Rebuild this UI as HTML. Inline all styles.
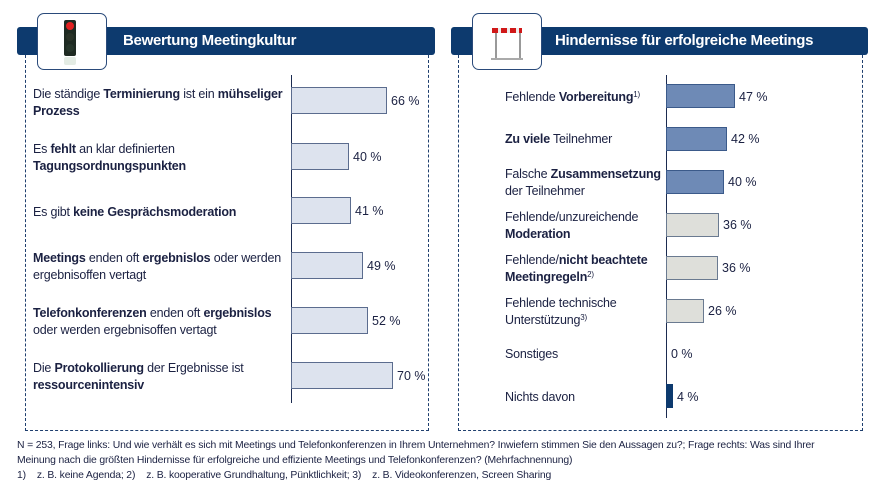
<!DOCTYPE html>
<html><head><meta charset="utf-8"><style>
body{margin:0;width:874px;height:487px;background:#fff;position:relative;overflow:hidden;font-family:"Liberation Sans",sans-serif;color:#1b2142}
div{position:absolute}
.hdr{background:#0d3a6e;height:28px;top:27px;border-radius:3px;color:#fff;font-weight:bold;font-size:15px;line-height:28px;letter-spacing:-0.3px}
.box{border:1.5px dashed #1f3f6e;border-top:none;top:55px;height:375px}
.icon{top:13px;width:68px;height:55px;background:#fff;border:1px solid #2a4a7a;border-radius:7px}
.lab{font-size:12.5px;line-height:17px;letter-spacing:-0.2px}
.bar{height:27px;background:#dde3ee;border:1px solid #5b6c8e;box-sizing:border-box}
.rb{height:24px;box-sizing:border-box;border:1px solid #3b5a8a}
.val{font-size:12.5px}
.ax{width:1px;background:#1b2b50}
.ft{left:17px;font-size:10.4px;letter-spacing:-0.15px}
sup{font-size:8px;line-height:0;vertical-align:0;position:relative;top:-4px}
</style></head><body>
<div class="box" style="left:25px;width:402px"></div>
<div class="box" style="left:458px;width:403px"></div>
<div class="hdr" style="left:17px;width:418px"><span style="position:absolute;left:106px">Bewertung Meetingkultur</span></div>
<div class="hdr" style="left:451px;width:417px"><span style="position:absolute;left:104px">Hindernisse für erfolgreiche Meetings</span></div>
<div class="icon" style="left:37px"><div style="left:26px;top:6px;width:12px;height:36px;background:#1e2a22;border-radius:2px"></div><div style="left:28px;top:8px;width:8px;height:8px;background:#e02020;border-radius:50%"></div><div style="left:28px;top:19px;width:8px;height:8px;background:#2a3328;border-radius:50%"></div><div style="left:28px;top:30px;width:8px;height:8px;background:#26352a;border-radius:50%"></div><div style="left:26px;top:43px;width:12px;height:8px;background:#e4ece4;border-radius:2px"></div></div>
<div class="icon" style="left:472px"><div style="left:19px;top:14px;width:30px;height:5px;background:repeating-linear-gradient(90deg,#d01818 0 6px,#eee 6px 9px)"></div><div style="left:22px;top:19px;width:2px;height:25px;background:#999"></div><div style="left:46px;top:19px;width:2px;height:25px;background:#999"></div><div style="left:18px;top:44px;width:32px;height:2px;background:#aaa"></div></div>

<div class="ax" style="left:291px;top:75px;height:328px"></div>
<div class="lab" style="left:33px;top:86px">Die ständige <b>Terminierung</b> ist ein <b>mühseliger<br>Prozess</b></div>
<div class="bar" style="left:291px;top:87px;width:96px"></div><div class="val" style="left:391px;top:94px">66 %</div>
<div class="lab" style="left:33px;top:141px">Es <b>fehlt</b> an klar definierten<br><b>Tagungsordnungspunkten</b></div>
<div class="bar" style="left:291px;top:143px;width:58px"></div><div class="val" style="left:353px;top:150px">40 %</div>
<div class="lab" style="left:33px;top:204px">Es gibt <b>keine Gesprächsmoderation</b></div>
<div class="bar" style="left:291px;top:197px;width:60px"></div><div class="val" style="left:355px;top:204px">41 %</div>
<div class="lab" style="left:33px;top:250px"><b>Meetings</b> enden oft <b>ergebnislos</b> oder werden<br>ergebnisoffen vertagt</div>
<div class="bar" style="left:291px;top:252px;width:72px"></div><div class="val" style="left:367px;top:259px">49 %</div>
<div class="lab" style="left:33px;top:305px"><b>Telefonkonferenzen</b> enden oft <b>ergebnislos</b><br>oder werden ergebnisoffen vertagt</div>
<div class="bar" style="left:291px;top:307px;width:77px"></div><div class="val" style="left:372px;top:314px">52 %</div>
<div class="lab" style="left:33px;top:360px">Die <b>Protokollierung</b> der Ergebnisse ist<br><b>ressourcenintensiv</b></div>
<div class="bar" style="left:291px;top:362px;width:102px"></div><div class="val" style="left:397px;top:369px">70 %</div>

<div class="ax" style="left:666px;top:75px;height:343px"></div>
<div class="lab" style="left:505px;top:89px">Fehlende <b>Vorbereitung</b><sup>1)</sup></div>
<div class="rb" style="left:666px;top:84px;width:69px;background:#6e8ab6"></div><div class="val" style="left:739px;top:90px">47 %</div>
<div class="lab" style="left:505px;top:131px"><b>Zu viele</b> Teilnehmer</div>
<div class="rb" style="left:666px;top:127px;width:61px;background:#6e8ab6"></div><div class="val" style="left:731px;top:132px">42 %</div>
<div class="lab" style="left:505px;top:166px">Falsche <b>Zusammensetzung</b><br>der Teilnehmer</div>
<div class="rb" style="left:666px;top:170px;width:58px;background:#6e8ab6"></div><div class="val" style="left:728px;top:175px">40 %</div>
<div class="lab" style="left:505px;top:209px">Fehlende/unzureichende<br><b>Moderation</b></div>
<div class="rb" style="left:666px;top:213px;width:53px;background:#dedfda;border-color:#6a7a90"></div><div class="val" style="left:723px;top:218px">36 %</div>
<div class="lab" style="left:505px;top:252px">Fehlende/<b>nicht beachtete<br>Meetingregeln</b><sup>2)</sup></div>
<div class="rb" style="left:666px;top:256px;width:52px;background:#dedfda;border-color:#6a7a90"></div><div class="val" style="left:722px;top:261px">36 %</div>
<div class="lab" style="left:505px;top:295px">Fehlende technische<br>Unterstützung<sup>3)</sup></div>
<div class="rb" style="left:666px;top:299px;width:38px;background:#dedfda;border-color:#6a7a90"></div><div class="val" style="left:708px;top:304px">26 %</div>
<div class="lab" style="left:505px;top:346px">Sonstiges</div>
<div class="val" style="left:671px;top:347px">0 %</div>
<div class="lab" style="left:505px;top:389px">Nichts davon</div>
<div class="rb" style="left:666px;top:384px;width:7px;background:#0d3a6e;border:none"></div><div class="val" style="left:677px;top:390px">4 %</div>

<div class="ft" style="top:440px">N = 253, Frage links: Und wie verhält es sich mit Meetings und Telefonkonferenzen in Ihrem Unternehmen? Inwiefern stimmen Sie den Aussagen zu?; Frage rechts: Was sind Ihrer</div>
<div class="ft" style="top:455px">Meinung nach die größten Hindernisse für erfolgreiche und effiziente Meetings und Telefonkonferenzen? (Mehrfachnennung)</div>
<div class="ft" style="top:470px">1)&nbsp;&nbsp;&nbsp;&nbsp;z. B. keine Agenda; 2)&nbsp;&nbsp;&nbsp;&nbsp;z. B. kooperative Grundhaltung, Pünktlichkeit; 3)&nbsp;&nbsp;&nbsp;&nbsp;z. B. Videokonferenzen, Screen Sharing</div>
</body></html>
